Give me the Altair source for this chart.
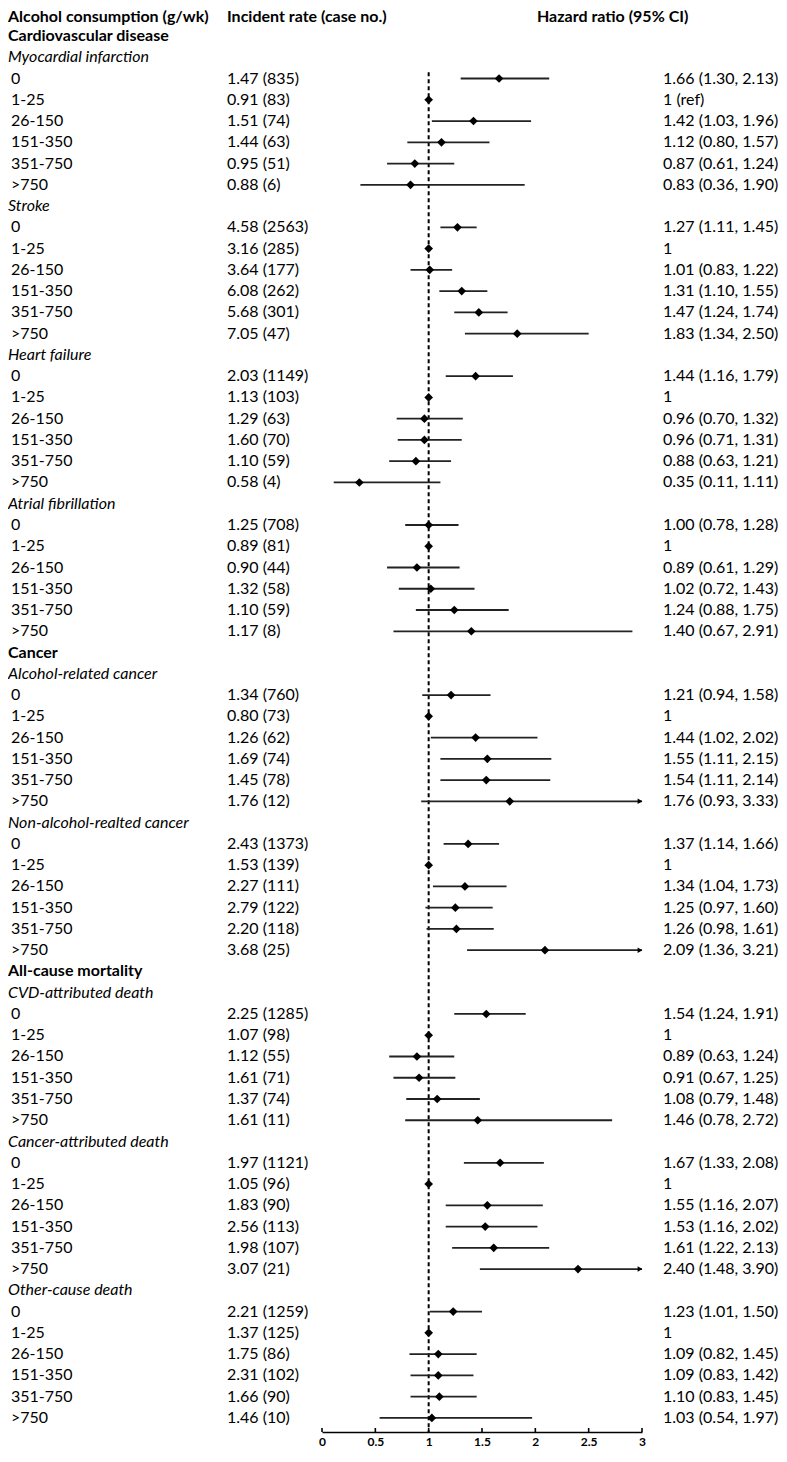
import altair as alt
import pandas as pd

# ---------------- data ----------------
headers = ["Alcohol consumption (g/wk)", "Incident rate (case no.)", "Hazard ratio (95% CI)"]
categories = ["0", "1-25", "26-150", "151-350", "351-750", ">750"]
sections = ["Cardiovascular disease", "Cancer", "All-cause mortality"]
outcomes = [
    ["Myocardial infarction", "Stroke", "Heart failure", "Atrial fibrillation"],
    ["Alcohol-related cancer", "Non-alcohol-realted cancer"],
    ["CVD-attributed death", "Cancer-attributed death", "Other-cause death"],
]
rate = [
    [1.47, 0.91, 1.51, 1.44, 0.95, 0.88],
    [4.58, 3.16, 3.64, 6.08, 5.68, 7.05],
    [2.03, 1.13, 1.29, 1.60, 1.10, 0.58],
    [1.25, 0.89, 0.90, 1.32, 1.10, 1.17],
    [1.34, 0.80, 1.26, 1.69, 1.45, 1.76],
    [2.43, 1.53, 2.27, 2.79, 2.20, 3.68],
    [2.25, 1.07, 1.12, 1.61, 1.37, 1.61],
    [1.97, 1.05, 1.83, 2.56, 1.98, 3.07],
    [2.21, 1.37, 1.75, 2.31, 1.66, 1.46],
]
cases = [
    [835, 83, 74, 63, 51, 6],
    [2563, 285, 177, 262, 301, 47],
    [1149, 103, 63, 70, 59, 4],
    [708, 81, 44, 58, 59, 8],
    [760, 73, 62, 74, 78, 12],
    [1373, 139, 111, 122, 118, 25],
    [1285, 98, 55, 71, 74, 11],
    [1121, 96, 90, 113, 107, 21],
    [1259, 125, 86, 102, 90, 10],
]
hr = [
    [1.66, 1, 1.42, 1.12, 0.87, 0.83],
    [1.27, 1, 1.01, 1.31, 1.47, 1.83],
    [1.44, 1, 0.96, 0.96, 0.88, 0.35],
    [1.00, 1, 0.89, 1.02, 1.24, 1.40],
    [1.21, 1, 1.44, 1.55, 1.54, 1.76],
    [1.37, 1, 1.34, 1.25, 1.26, 2.09],
    [1.54, 1, 0.89, 0.91, 1.08, 1.46],
    [1.67, 1, 1.55, 1.53, 1.61, 2.40],
    [1.23, 1, 1.09, 1.09, 1.10, 1.03],
]
lo = [
    [1.30, None, 1.03, 0.80, 0.61, 0.36],
    [1.11, None, 0.83, 1.10, 1.24, 1.34],
    [1.16, None, 0.70, 0.71, 0.63, 0.11],
    [0.78, None, 0.61, 0.72, 0.88, 0.67],
    [0.94, None, 1.02, 1.11, 1.11, 0.93],
    [1.14, None, 1.04, 0.97, 0.98, 1.36],
    [1.24, None, 0.63, 0.67, 0.79, 0.78],
    [1.33, None, 1.16, 1.16, 1.22, 1.48],
    [1.01, None, 0.82, 0.83, 0.83, 0.54],
]
hi = [
    [2.13, None, 1.96, 1.57, 1.24, 1.90],
    [1.45, None, 1.22, 1.55, 1.74, 2.50],
    [1.79, None, 1.32, 1.31, 1.21, 1.11],
    [1.28, None, 1.29, 1.43, 1.75, 2.91],
    [1.58, None, 2.02, 2.15, 2.14, 3.33],
    [1.66, None, 1.73, 1.60, 1.61, 3.21],
    [1.91, None, 1.24, 1.25, 1.48, 2.72],
    [2.08, None, 2.07, 2.02, 2.13, 3.90],
    [1.50, None, 1.45, 1.42, 1.45, 1.97],
]
ticks = [0, 0.5, 1, 1.5, 2, 2.5, 3]
ref_value = [1]

# ---------------- build the row table ----------------
records = []
r = 1
k = 0
for s, outs in zip(sections, outcomes):
    records.append(dict(row=r, label=s, kind="section")); r += 1
    for o in outs:
        records.append(dict(row=r, label=o, kind="sub")); r += 1
        for j, c in enumerate(categories):
            h, l, u = hr[k][j], lo[k][j], hi[k][j]
            if l is None:
                ht = "1 (ref)" if k == 0 else "1"
            else:
                ht = f"{h:.2f} ({l:.2f}, {u:.2f})"
            records.append(dict(row=r, label=c, kind="data",
                                inc=f"{rate[k][j]:.2f} ({cases[k][j]})",
                                hrt=ht, hr=h, lo=l, hi=u))
            r += 1
        k += 1
df = pd.DataFrame(records)
n_rows = r - 1

# ---------------- chart ----------------
W, H = 771, 1424
FONT = "Lato"
FS = 16
STEP = 21.26
FIRST = 28
TOP_ROW = 1 - FIRST / STEP
BOT_ROW = 1 + (H - FIRST) / STEP

xs = alt.Scale(domain=[0, 3], range=[314, 634], nice=False, zero=False)
xa = alt.Axis(values=ticks, format="~g", grid=False, ticks=False,
              domainColor="black", domainWidth=1.6, labelFont=FONT,
              labelFontSize=12, labelFontWeight="bold", labelColor="black",
              labelPadding=4, labelFlush=False, title=None)
ys = alt.Scale(domain=[TOP_ROW, BOT_ROW], reverse=True, nice=False, zero=False)
Y = alt.Y("row:Q", scale=ys, axis=None)

base = alt.Chart(df)

def txt(**kw):
    opts = dict(align="left", baseline="middle", font=FONT, fontSize=FS, color="black")
    opts.update(kw)
    return opts

sec = base.transform_filter("datum.kind == 'section'").mark_text(**txt(fontWeight="bold")).encode(
    x=alt.value(0), y=Y, text="label:N")
sub = base.transform_filter("datum.kind == 'sub'").mark_text(**txt(fontStyle="italic")).encode(
    x=alt.value(0), y=Y, text="label:N")
cat = base.transform_filter("datum.kind == 'data'").mark_text(**txt()).encode(
    x=alt.value(3), y=Y, text="label:N")
inc = base.transform_filter("datum.kind == 'data'").mark_text(**txt()).encode(
    x=alt.value(219), y=Y, text="inc:N")
hrt = base.transform_filter("datum.kind == 'data'").mark_text(**txt()).encode(
    x=alt.value(655), y=Y, text="hrt:N")

hdr_x = [0, 219, 529]
hdr_layers = [
    alt.Chart(pd.DataFrame({"h": [t]})).mark_text(**txt(fontWeight="bold", baseline="top")).encode(
        x=alt.value(px), y=alt.value(1), text="h:N")
    for t, px in zip(headers, hdr_x)
]

# dashed reference line at HR = 1, from just above the first data row down to the axis
ref = alt.Chart(pd.DataFrame({"v": ref_value})).transform_calculate(
    top="2.7", bottom=str(BOT_ROW)).mark_rule(
    strokeDash=[4, 3], strokeWidth=2, color="black").encode(
    x=alt.X("v:Q", scale=xs, axis=xa), y=alt.Y("top:Q", scale=ys, axis=None), y2="bottom:Q")

ci = base.transform_filter("isValid(datum.lo)").transform_calculate(
    hic="min(datum.hi, 3)").mark_rule(strokeWidth=1.8, color="#222222").encode(
    x=alt.X("lo:Q", scale=xs, axis=xa), x2="hic:Q", y=Y)

arrow = base.transform_filter("datum.hi > 3").transform_calculate(cap="3").mark_point(
    shape="triangle-right", filled=True, size=30, color="black", opacity=1, xOffset=-2).encode(
    x=alt.X("cap:Q", scale=xs, axis=xa), y=Y)

dia = base.transform_filter("datum.kind == 'data'").mark_point(
    shape="diamond", filled=True, size=75, color="black", opacity=1).encode(
    x=alt.X("hr:Q", scale=xs, axis=xa), y=Y)

tk = alt.Chart(pd.DataFrame({"t": ticks})).mark_rule(color="black", strokeWidth=1.6).encode(
    x=alt.X("t:Q", scale=xs, axis=xa), y=alt.value(H), y2=alt.value(H - 4))

chart = alt.layer(ref, ci, arrow, dia, tk, sec, sub, cat, inc, hrt, *hdr_layers).properties(
    width=W, height=H,
    autosize=alt.AutoSizeParams(type="none"),
    padding={"left": 0, "top": 0, "right": 0, "bottom": 16},
).configure_view(stroke=None)

chart.save("out.html", embed_options={"renderer": "svg", "actions": False})
